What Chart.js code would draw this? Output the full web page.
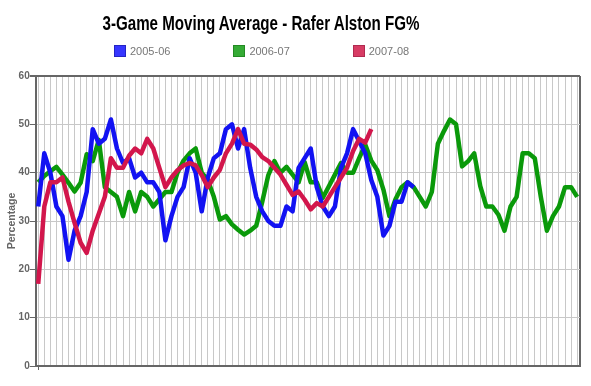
<!DOCTYPE html>
<html>
<head>
<meta charset="utf-8">
<script src="https://cdn.jsdelivr.net/npm/chart.js@4.4.1/dist/chart.umd.min.js"></script>
<style>
html,body{margin:0;padding:0;background:#fff;}
#wrap{position:relative;width:591px;height:386px;overflow:hidden;}
#chart{position:absolute;left:0;top:0;}
#title{position:absolute;left:0;top:11.5px;width:522px;text-align:center;font-weight:bold;font-size:19.5px;line-height:22px;font-family:"Liberation Sans",Arial,sans-serif;color:#000;white-space:nowrap;transform:scaleX(0.776);transform-origin:261px 50%;}
#legend{position:absolute;left:114px;top:45px;display:flex;gap:63px;font-family:"Liberation Sans",Arial,sans-serif;font-size:11px;line-height:12px;color:#777;}
.item{display:flex;align-items:center;white-space:nowrap;}
.box{width:10px;height:10px;margin-right:4px;border:1px solid;}
</style>
</head>
<body>
<div id="wrap">
<canvas id="chart" width="591" height="386"></canvas>
<div id="title">3-Game Moving Average - Rafer Alston FG%</div>
<div id="legend"></div>
</div>
<script>
// ---- data (game number on x, 3-game moving average FG% on y) ----
const games = [1,2,3,4,5,6,7,8,9,10,11,12,13,14,15,16,17,18,19,20,21,22,23,24,25,26,27,28,29,30,
  31,32,33,34,35,36,37,38,39,40,41,42,43,44,45,46,47,48,49,50,51,52,53,54,55,56,57,58,59,60,
  61,62,63,64,65,66,67,68,69,70,71,72,73,74,75,76,77,78,79,80,81,82,83,84,85,86,87,88,89,90];

const seasons = ['2005-06', '2006-07', '2007-08'];

const fg2005_06 = [33,44,40,33,31,22,28,31,36,49,46,47,51,45,42,43,39,40,38,38,
  36,26,31,35,37,43,40,32,39,43,44,49,50,45,49,41,35,32,30,29,
  29,33,32,41,43,45,37,33,31,33,41,44,49,46.5,44,38.5,35,27,29,34,
  34,38,37];

const fg2006_07 = [38,39.3,40.3,41.2,39.6,37.9,36.1,37.9,43.8,42.4,46.8,37,36,35,31,36,32,36,35,33,
  34.5,36,36,40,42.5,44,45,40,38.5,35,30.3,31,29.3,28.2,27.2,28,29,34,39.5,42.4,
  40,41.2,39.6,38,42.2,38,38,34.8,37.2,39.6,42,40,40,43,45.8,42.5,40.5,36.5,31,34.5,
  37,38,37,35,33,36,46,48.6,51,50,41.3,42.4,44,37.2,33,33,31.3,28,33,35,
  44,44,43,35,28,31,33,37,37,35];

const fg2007_08 = [17,33,38,38,39,34,29.6,25.5,23.4,28,31.5,35,43,41,41,43.5,45,44,47,45,
  41,37,39,40.5,41.5,42,41.5,39.5,37,39,40.6,44,46,49,46,45.8,44.8,43.2,42.4,41,
  39.6,37.5,35.4,36.1,34.4,32.4,33.7,33,35,37,39,41,44.5,47,46.2,49];

const yTickValues = [0, 10, 20, 30, 40, 50, 60];

// ---- styles ----
const lineColors = ['#1212f2', '#0a990a', '#d2164c'];
const boxFill = ['#3636ff', '#35ab35', '#d73c64'];
const boxEdge = ['#2424c4', '#238a23', '#b02a50'];
const gridGrey = '#c8c8c8';
const frameGrey = '#666666';

const series = [fg2005_06, fg2006_07, fg2007_08];
const drawOrder = [1, 2, 0];

const datasets = series.map((vals, s) => ({
  label: seasons[s],
  data: vals.map((v, i) => ({ x: games[i], y: v })),
  borderColor: lineColors[s],
  backgroundColor: lineColors[s],
  borderWidth: 4.5,
  pointRadius: 0,
  pointHoverRadius: 0,
  tension: 0,
  fill: false,
  borderJoinStyle: 'round',
  order: drawOrder[s]
}));

const xMin = 0.585, xMax = 90.47;

const chart = new Chart(document.getElementById('chart'), {
  type: 'line',
  data: { datasets },
  options: {
    responsive: false,
    animation: false,
    events: [],
    layout: { padding: { top: 76, right: 11, bottom: 16, left: 0 } },
    plugins: {
      legend: { display: false },
      title: { display: false },
      tooltip: { enabled: false }
    },
    scales: {
      x: {
        type: 'linear',
        min: xMin,
        max: xMax,
        afterBuildTicks: (scale) => {
          scale.ticks = games.map(g => ({ value: g })).concat([{ value: xMax }]);
        },
        ticks: { display: false },
        grid: {
          drawTicks: true,
          tickLength: 4,
          color: (ctx) => (ctx.index === games.length ? frameGrey : gridGrey),
          lineWidth: (ctx) => (ctx.index === games.length ? 2 : 1),
          tickColor: (ctx) => (ctx.index === 0 ? frameGrey : 'rgba(0,0,0,0)')
        },
        border: { display: true, color: frameGrey, width: 2 }
      },
      y: {
        type: 'linear',
        min: 0,
        max: 60,
        afterBuildTicks: (scale) => {
          scale.ticks = yTickValues.map(v => ({ value: v }));
        },
        ticks: {
          color: '#666',
          padding: 0,
          font: { family: '"Liberation Sans", Arial, sans-serif', size: 10, weight: 'bold' }
        },
        grid: {
          drawTicks: true,
          tickLength: 6,
          color: (ctx) => (ctx.tick && ctx.tick.value === 60 ? frameGrey : (ctx.tick && ctx.tick.value === 0 ? 'rgba(0,0,0,0)' : gridGrey)),
          lineWidth: (ctx) => (ctx.tick && ctx.tick.value === 60 ? 2 : 1),
          tickColor: frameGrey
        },
        border: { display: true, color: frameGrey, width: 2 },
        title: {
          display: true,
          text: 'Percentage',
          color: '#666',
          padding: { top: 6, bottom: 0 },
          font: { family: '"Liberation Sans", Arial, sans-serif', size: 10.5, weight: 'bold' }
        }
      }
    }
  }
});

// HTML legend built from the chart's datasets
const legendEl = document.getElementById('legend');
chart.data.datasets.forEach((ds, s) => {
  const item = document.createElement('div');
  item.className = 'item';
  const box = document.createElement('span');
  box.className = 'box';
  box.style.background = boxFill[s];
  box.style.borderColor = boxEdge[s];
  const txt = document.createElement('span');
  txt.textContent = ds.label;
  item.appendChild(box);
  item.appendChild(txt);
  legendEl.appendChild(item);
});
</script>
</body>
</html>
